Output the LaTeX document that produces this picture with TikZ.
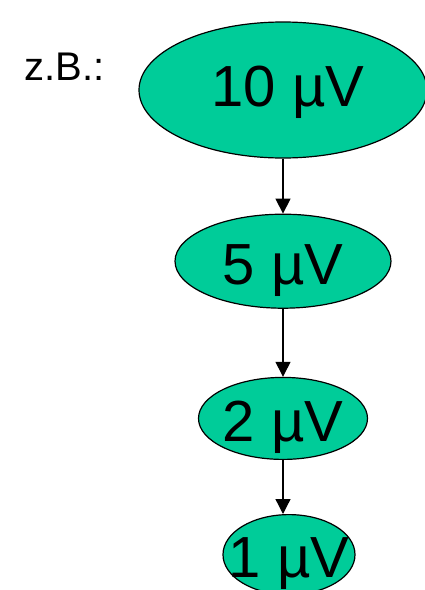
\documentclass[tikz,border=0pt]{standalone}
\usepackage{fontspec}
\setmainfont{Liberation Sans}
\usetikzlibrary{positioning,shapes.geometric,arrows.meta}
\definecolor{VoltGreen}{HTML}{00CC99}

\begin{document}
\begin{tikzpicture}[>={Triangle[length=15pt,width=15pt]},x=1pt,y=1pt]
  \tikzstyle{volt}=[ellipse,draw,line width=1.2pt,fill=VoltGreen,inner sep=0pt]
  \tikzstyle{volttext}=[font=\fontsize{58}{60}\selectfont,inner sep=0pt]
  \useasboundingbox (0,0) rectangle (425,-590);
  \node[anchor=base west,font=\fontsize{40}{40}\selectfont] (zb) at (21,-80) {z.B.:};
  \node[volt,minimum width=288pt,minimum height=136pt,
    label={[volttext,xshift=5pt,yshift=-2.5pt]center:10 µV}] (v10) at (283,-90) {};
  \node[volt,minimum width=216pt,minimum height=94pt,below=55pt of v10,
    label={[volttext,yshift=-9pt]center:5 µV}] (v5) {};
  \node[volt,minimum width=169pt,minimum height=82pt,below=68pt of v5,
    label={[volttext,yshift=-9pt]center:2 µV}] (v2) {};
  \node[volt,minimum width=132pt,minimum height=80pt,below=54pt of v2,xshift=6pt,
    label={[volttext,yshift=-9pt]center:1 µV}] (v1) {};
  \draw[->,line width=1.3pt] (v10)--(v5);
  \draw[->,line width=1.3pt] (v5)--(v2);
  \draw[->,line width=1.3pt] (v2.south)--(v2.south|-v1.north);
\end{tikzpicture}
\end{document}
